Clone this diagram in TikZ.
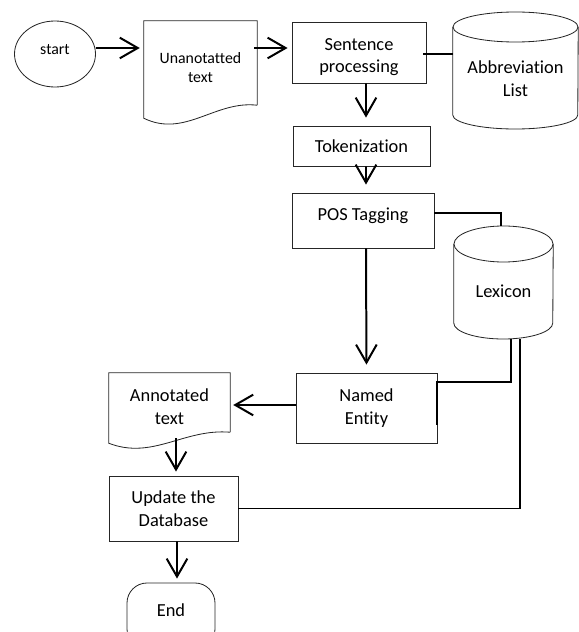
\documentclass[tikz,border=0pt]{standalone}
\usepackage{fontspec}
\setmainfont{Carlito}[Ligatures=NoCommon]
\usetikzlibrary{arrows.meta,shapes.geometric,calc}

\begin{document}
\begin{tikzpicture}[
  x=0.3mm, y=0.3mm,
  font=\fontsize{15.7}{19.2}\selectfont,
  box/.style={rectangle, draw=black!85, line width=0.7pt, align=center, inner sep=0pt},
  small/.style={font=\fontsize{13.5}{16.2}\selectfont},
  bare/.style={rectangle, align=center, inner sep=0pt},
  outline/.style={draw=black!85, line width=0.7pt},
  flow/.style={line width=1.7pt, -{Straight Barb[length=5.4mm, width=6.2mm]}},
  link/.style={line width=1.7pt},
]
\useasboundingbox (0,0) rectangle (579,632);
\clip (0,0) rectangle (579,632);

% terminals
\node[box, ellipse, small, text depth=2.8mm, minimum width=24.3mm, minimum height=19.8mm] (start) at (55,578) {start};
\node[box, rounded corners=6mm, text depth=3.6mm, minimum width=26.4mm, minimum height=19.8mm] (end) at (171,16) {End};

% documents (wavy bottom drawn by hand)
\node[bare, small, minimum width=33.9mm, minimum height=25.2mm] (untext) at (200.5,569) {\rule{0pt}{6mm}Unanotatted\\text};
\draw[outline] (untext.south east) -- (untext.north east) -- (untext.north west) -- ([yshift=-3.9mm]untext.south west)
  .. controls +(12.3mm,-6mm) and +(-12.6mm,1.5mm) .. (untext.south east);

\node[bare, minimum width=36.3mm, minimum height=17.7mm] (ann) at (169.5,229.5) {\rule{0pt}{6.3mm}Annotated\\text};
\draw[outline] (ann.south east) -- (ann.north east) -- (ann.north west) -- ([yshift=-3.3mm]ann.south west)
  .. controls +(13.2mm,-5.1mm) and +(-13.8mm,1.2mm) .. (ann.south east);

% process boxes
\node[box, minimum width=40.2mm, minimum height=18.3mm] (sent) at (359,579.5) {\rule{0pt}{6.5mm}Sentence\\processing};
\node[box, minimum width=41.1mm, minimum height=12mm] (tok) at (361.5,486) {Tokenization};
\node[box, text depth=3.8mm, minimum width=42.6mm, minimum height=16.5mm] (pos) at (363,411.5) {POS Tagging};
\node[box, minimum width=42.3mm, minimum height=21mm] (ne) at (366.5,224) {Named\\Entity};
\node[box, minimum width=38.7mm, minimum height=19.5mm] (upd) at (173.5,123.5) {Update the\\Database};

% stores (cylinders round the text)
\node[bare, minimum width=37.5mm] (abbr) at (515.5,553.5) {Abbreviation\\List};
\draw[outline] ([yshift=15.45mm]abbr.center) ellipse [x radius=18.75mm, y radius=4.5mm];
\draw[outline] ([yshift=15.45mm]abbr.west) -- ([yshift=-10.95mm]abbr.west)
  arc[start angle=180, end angle=360, x radius=18.75mm, y radius=4.2mm] -- ([yshift=15.45mm]abbr.east);

\node[bare, minimum width=29.7mm] (lex) at (503.5,341) {Lexicon};
\draw[outline] ([yshift=14.1mm]lex.center) ellipse [x radius=14.85mm, y radius=5.4mm];
\draw[outline] ([yshift=14.1mm]lex.west) -- ([yshift=-9.6mm]lex.west)
  arc[start angle=180, end angle=360, x radius=14.85mm, y radius=4.8mm] -- ([yshift=14.1mm]lex.east);

% main flow
\draw[flow, shorten >=1.2mm] ([yshift=1.8mm]start.east) -- ([yshift=4.5mm]untext.west);
\draw[flow, shorten >=1.2mm] ([xshift=-0.9mm,yshift=4.5mm]untext.east) -- ([yshift=1.35mm]sent.west);
\draw[flow, shorten >=2.4mm] ([xshift=2.1mm]sent.south) -- ([xshift=1.35mm]tok.north);
\draw[flow, shorten >=2.4mm] ([xshift=1.35mm]tok.south) -- ([xshift=0.9mm]pos.north);
\draw[flow, shorten >=2.4mm] ([xshift=0.9mm]pos.south) -- (ne.north);
\draw[flow, shorten >=0.9mm] ([yshift=0.9mm]ne.west) -- ([yshift=-0.75mm]ann.east);
\draw[flow, shorten >=1.2mm] ([xshift=1.95mm,yshift=-1.8mm]ann.south) -- ([xshift=0.75mm]upd.north);
\draw[flow, shorten >=1.2mm] ([xshift=1.05mm]upd.south) -- ([xshift=1.8mm]end.north);

% links to the stores
\draw[link] ([xshift=-0.9mm,yshift=-0.45mm]sent.east) -- ([yshift=-0.45mm]sent.east -| abbr.west);
\draw[link] ([yshift=2.25mm]pos.east) -| ([xshift=-0.75mm,yshift=19.5mm]lex.center);
\draw[link] ([xshift=2.25mm,yshift=-14.4mm]lex.center) |- ([yshift=-2.7mm]ne.north east) -- ([yshift=-15.6mm]ne.north east);
\draw[link] ([xshift=4.95mm,yshift=-14.4mm]lex.center) |- (upd.east);
\end{tikzpicture}
\end{document}
